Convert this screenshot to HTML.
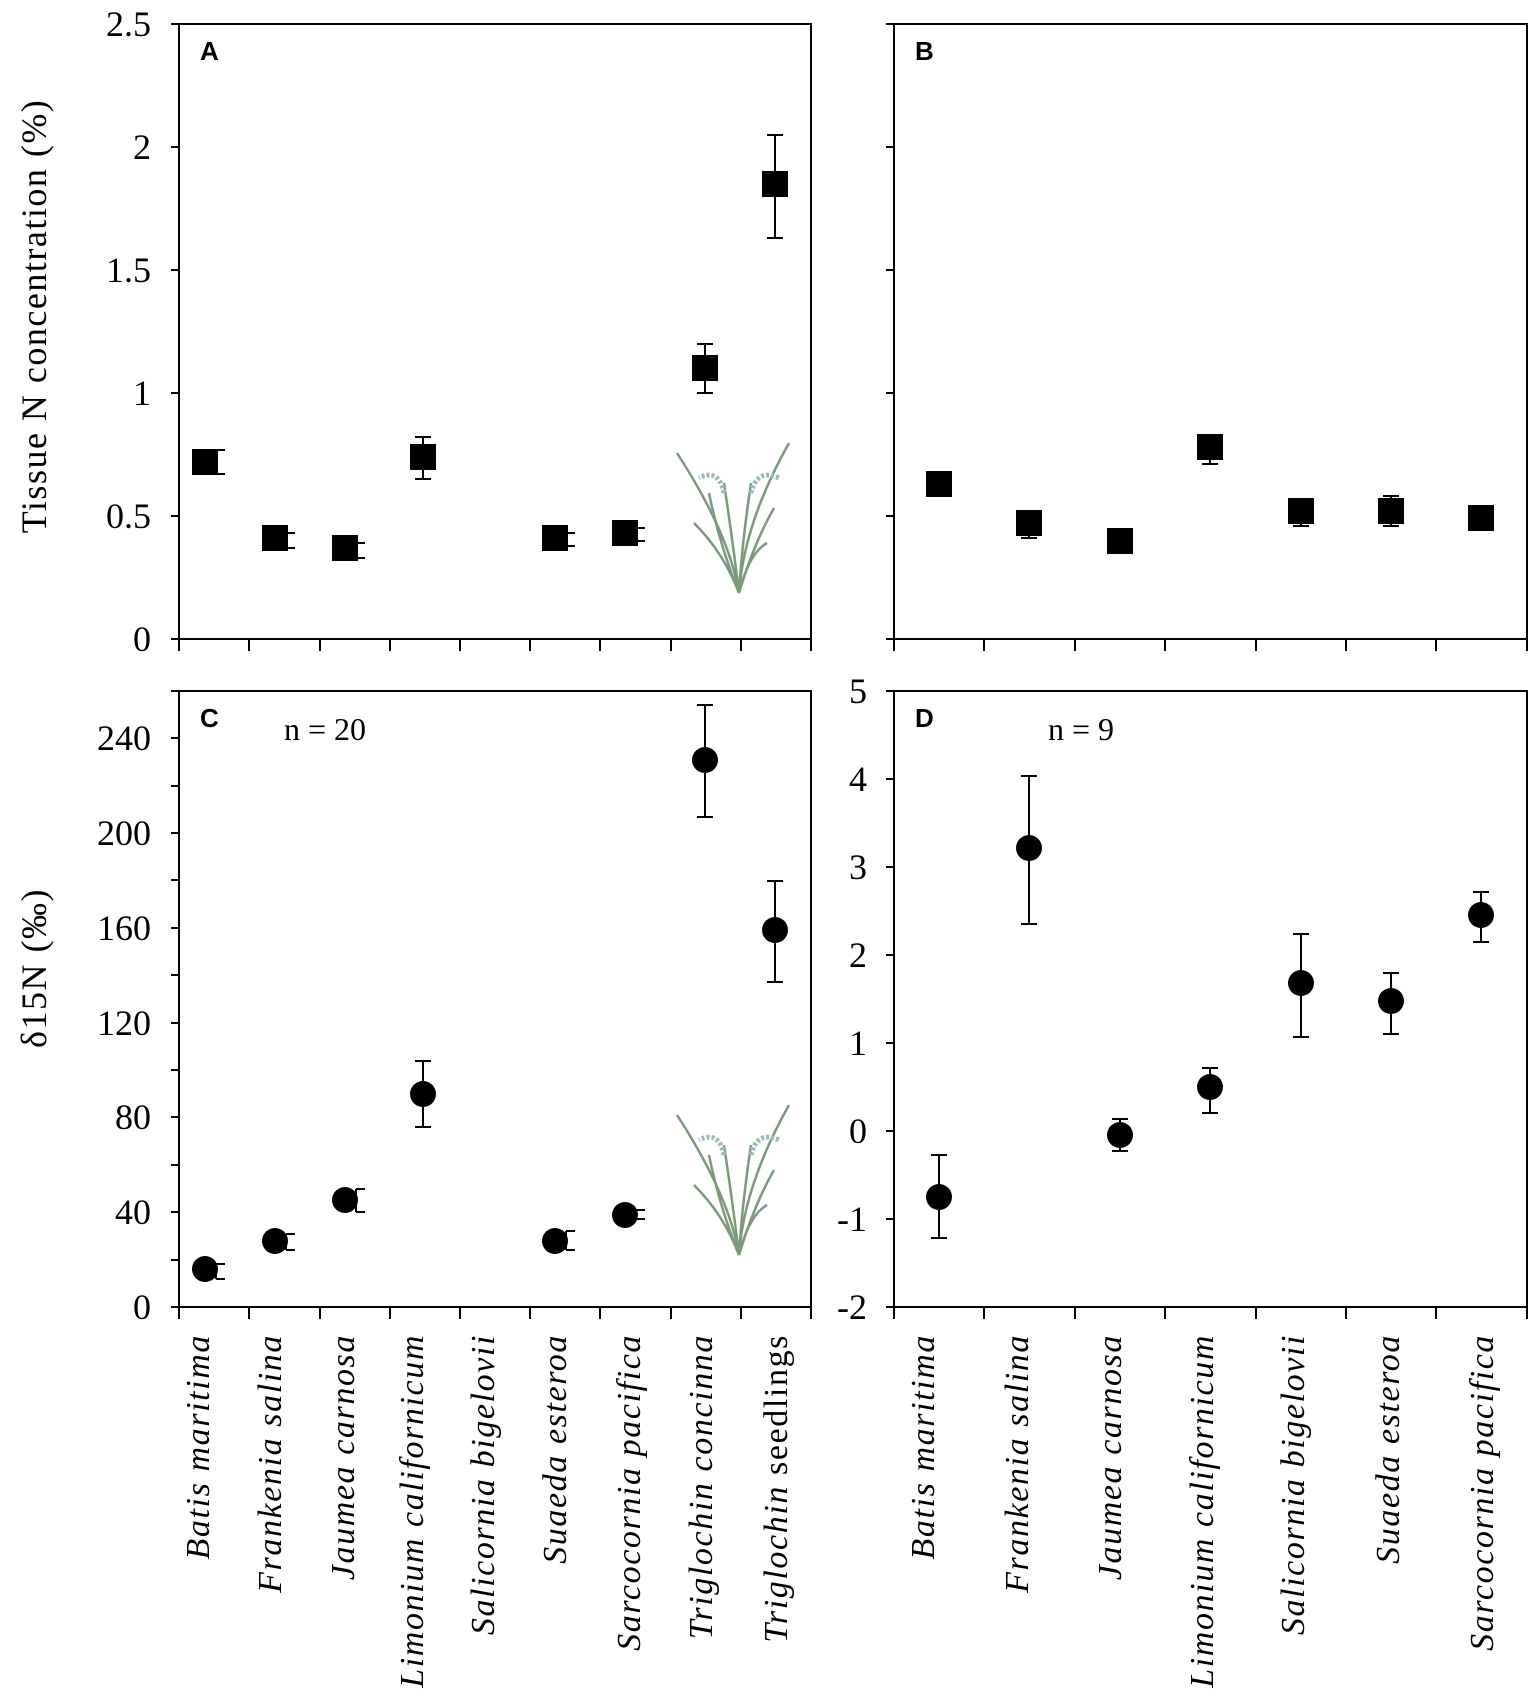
<!DOCTYPE html>
<html><head><meta charset="utf-8"><style>
html,body{margin:0;padding:0;background:#fff}
svg{display:block}
.t{font-family:"Liberation Serif",serif;font-size:36px;fill:#000}
.x{font-family:"Liberation Serif",serif;font-size:34px;font-style:italic;fill:#000;letter-spacing:1.6px}
.p{font-family:"Liberation Sans",sans-serif;font-size:26px;font-weight:bold}
</style></head><body>
<svg width="1535" height="1691" viewBox="0 0 1535 1691" xmlns="http://www.w3.org/2000/svg">
<defs>
<g id="plant" stroke="#7a9a7a" stroke-width="2.5" fill="none">
<path d="M0,0 Q-10,-60 -62,-140"/><path d="M0,0 Q5,-70 50,-150"/>
<path d="M0,0 Q-20,-50 -30,-100"/><path d="M0,0 Q15,-50 35,-85"/>
<path d="M0,0 Q-6,-50 -15,-110"/><path d="M0,0 Q3,-50 12,-110"/>
<path d="M0,0 Q-15,-40 -45,-70"/><path d="M0,0 Q10,-40 28,-50"/>
<path d="M-15,-100 Q-20,-125 -40,-115" stroke="#9bb" stroke-width="5" stroke-dasharray="3 2"/>
<path d="M12,-100 Q18,-125 40,-115" stroke="#9bb" stroke-width="5" stroke-dasharray="3 2"/>
</g>
</defs>
<g stroke="#000" stroke-width="2" fill="none">
<rect x="179" y="24" width="632" height="615"/>
<rect x="894" y="24" width="633" height="615"/>
<rect x="179" y="691" width="632" height="616"/>
<rect x="894" y="691" width="633" height="616"/>
<path d="M179,639v12M249,639v12M320,639v12M390,639v12M460,639v12M530,639v12M600,639v12M671,639v12M741,639v12M811,639v12"/>
<path d="M179,1307v12M249,1307v12M320,1307v12M390,1307v12M460,1307v12M530,1307v12M600,1307v12M671,1307v12M741,1307v12M811,1307v12"/>
<path d="M894,639v12M984,639v12M1075,639v12M1165,639v12M1256,639v12M1346,639v12M1436,639v12M1527,639v12"/>
<path d="M894,1307v12M984,1307v12M1075,1307v12M1165,1307v12M1256,1307v12M1346,1307v12M1436,1307v12M1527,1307v12"/>
<path d="M171,639h8M171,516h8M171,393h8M171,270h8M171,147h8M171,24h8"/>
<path d="M886,639h8M886,516h8M886,393h8M886,270h8M886,147h8M886,24h8"/>
<path d="M171,1307h8M171,1260h8M171,1212h8M171,1165h8M171,1117h8M171,1070h8M171,1023h8M171,975h8M171,928h8M171,880h8M171,833h8M171,786h8M171,738h8M171,691h8"/>
<path d="M886,1307h8M886,1219h8M886,1131h8M886,1043h8M886,955h8M886,867h8M886,779h8M886,691h8"/>
<path d="M216,450v24M216,450h9M216,474h9 M286,533v15M286,533h9M286,548h9 M356,543v15M356,543h9M356,558h9 M423,437v42M415,437h16M415,479h16 M566,533v13M566,533h9M566,546h9 M636,528v13M636,528h9M636,541h9 M705,344v49M697,344h16M697,393h16 M775,135v103M767,135h16M767,238h16"/>
<path d="M1029,523v15M1021,538h16 M1210,447v17M1202,464h16 M1301,511v15M1293,526h16 M1391,496v30M1383,496h16M1383,526h16"/>
<path d="M216,1264v15M216,1264h9M216,1279h9 M286,1234v16M286,1234h9M286,1250h9 M356,1189v23M356,1189h9M356,1212h9 M423,1061v66M415,1061h16M415,1127h16 M566,1231v19M566,1231h9M566,1250h9 M636,1210v9M636,1210h9M636,1219h9 M705,705v112M697,705h16M697,817h16 M775,881v101M767,881h16M767,982h16"/>
<path d="M939,1155v83M931,1155h16M931,1238h16 M1029,776v148M1021,776h16M1021,924h16 M1120,1119v32M1112,1119h16M1112,1151h16 M1210,1068v45M1202,1068h16M1202,1113h16 M1301,934v103M1293,934h16M1293,1037h16 M1391,973v61M1383,973h16M1383,1034h16 M1481,892v50M1473,892h16M1473,942h16"/>
</g>
<g fill="#000">
<rect x="192" y="449" width="26" height="26"/><rect x="262" y="525" width="26" height="26"/>
<rect x="332" y="535" width="26" height="26"/><rect x="410" y="444" width="26" height="26"/>
<rect x="542" y="525" width="26" height="26"/><rect x="612" y="520" width="26" height="26"/>
<rect x="692" y="355" width="26" height="26"/><rect x="762" y="171" width="26" height="26"/>
<rect x="926" y="471" width="26" height="26"/><rect x="1016" y="510" width="26" height="26"/>
<rect x="1107" y="528" width="26" height="26"/><rect x="1197" y="434" width="26" height="26"/>
<rect x="1288" y="498" width="26" height="26"/><rect x="1378" y="498" width="26" height="26"/>
<rect x="1468" y="505" width="26" height="26"/>
<circle cx="205" cy="1269" r="13"/><circle cx="275" cy="1241" r="13"/><circle cx="345" cy="1200" r="13"/>
<circle cx="423" cy="1094" r="13"/><circle cx="555" cy="1241" r="13"/><circle cx="625" cy="1215" r="13"/>
<circle cx="705" cy="760" r="13"/><circle cx="775" cy="930" r="13"/>
<circle cx="939" cy="1197" r="13"/><circle cx="1029" cy="848" r="13"/><circle cx="1120" cy="1135" r="13"/>
<circle cx="1210" cy="1087" r="13"/><circle cx="1301" cy="983" r="13"/><circle cx="1391" cy="1001" r="13"/>
<circle cx="1481" cy="915" r="13"/>
</g>
<use href="#plant" x="739" y="593"/>
<use href="#plant" x="739" y="1255"/>
<g class="t" text-anchor="end">
<text x="151" y="651">0</text><text x="151" y="528">0.5</text><text x="151" y="405">1</text>
<text x="151" y="282">1.5</text><text x="151" y="159">2</text><text x="151" y="36">2.5</text>
<text x="151" y="1319">0</text><text x="151" y="1224">40</text><text x="151" y="1129">80</text>
<text x="151" y="1035">120</text><text x="151" y="940">160</text><text x="151" y="845">200</text><text x="151" y="750">240</text>
<text x="867" y="1319">-2</text><text x="867" y="1231">-1</text><text x="867" y="1143">0</text><text x="867" y="1055">1</text>
<text x="867" y="967">2</text><text x="867" y="879">3</text><text x="867" y="791">4</text><text x="867" y="703">5</text>
</g>
<text class="t" transform="translate(46,316) rotate(-90)" text-anchor="middle" style="letter-spacing:1.5px">Tissue N concentration (%)</text>
<text class="t" transform="translate(46,968) rotate(-90)" text-anchor="middle" style="letter-spacing:1.5px">δ15N (‰)</text>
<text class="p" x="200" y="60">A</text><text class="p" x="915" y="60">B</text>
<text class="p" x="200" y="727">C</text><text class="p" x="915" y="727">D</text>
<text class="t" x="284" y="740" style="font-size:32px">n = 20</text>
<text class="t" x="1048" y="740" style="font-size:32px">n = 9</text>
<g class="x" text-anchor="end">
<text transform="translate(209,1334) rotate(-90)">Batis maritima</text>
<text transform="translate(281,1334) rotate(-90)">Frankenia salina</text>
<text transform="translate(354,1334) rotate(-90)">Jaumea carnosa</text>
<text transform="translate(423,1334) rotate(-90)">Limonium californicum</text>
<text transform="translate(494,1334) rotate(-90)">Salicornia bigelovii</text>
<text transform="translate(566,1334) rotate(-90)">Suaeda esteroa</text>
<text transform="translate(640,1334) rotate(-90)">Sarcocornia pacifica</text>
<text transform="translate(712,1334) rotate(-90)">Triglochin concinna</text>
<text transform="translate(787,1334) rotate(-90)">Triglochin <tspan font-style="normal">seedlings</tspan></text>
<text transform="translate(934,1334) rotate(-90)">Batis maritima</text>
<text transform="translate(1028,1334) rotate(-90)">Frankenia salina</text>
<text transform="translate(1121,1334) rotate(-90)">Jaumea carnosa</text>
<text transform="translate(1213,1334) rotate(-90)">Limonium californicum</text>
<text transform="translate(1304,1334) rotate(-90)">Salicornia bigelovii</text>
<text transform="translate(1399,1334) rotate(-90)">Suaeda esteroa</text>
<text transform="translate(1493,1334) rotate(-90)">Sarcocornia pacifica</text>
</g>
</svg>
</body></html>
